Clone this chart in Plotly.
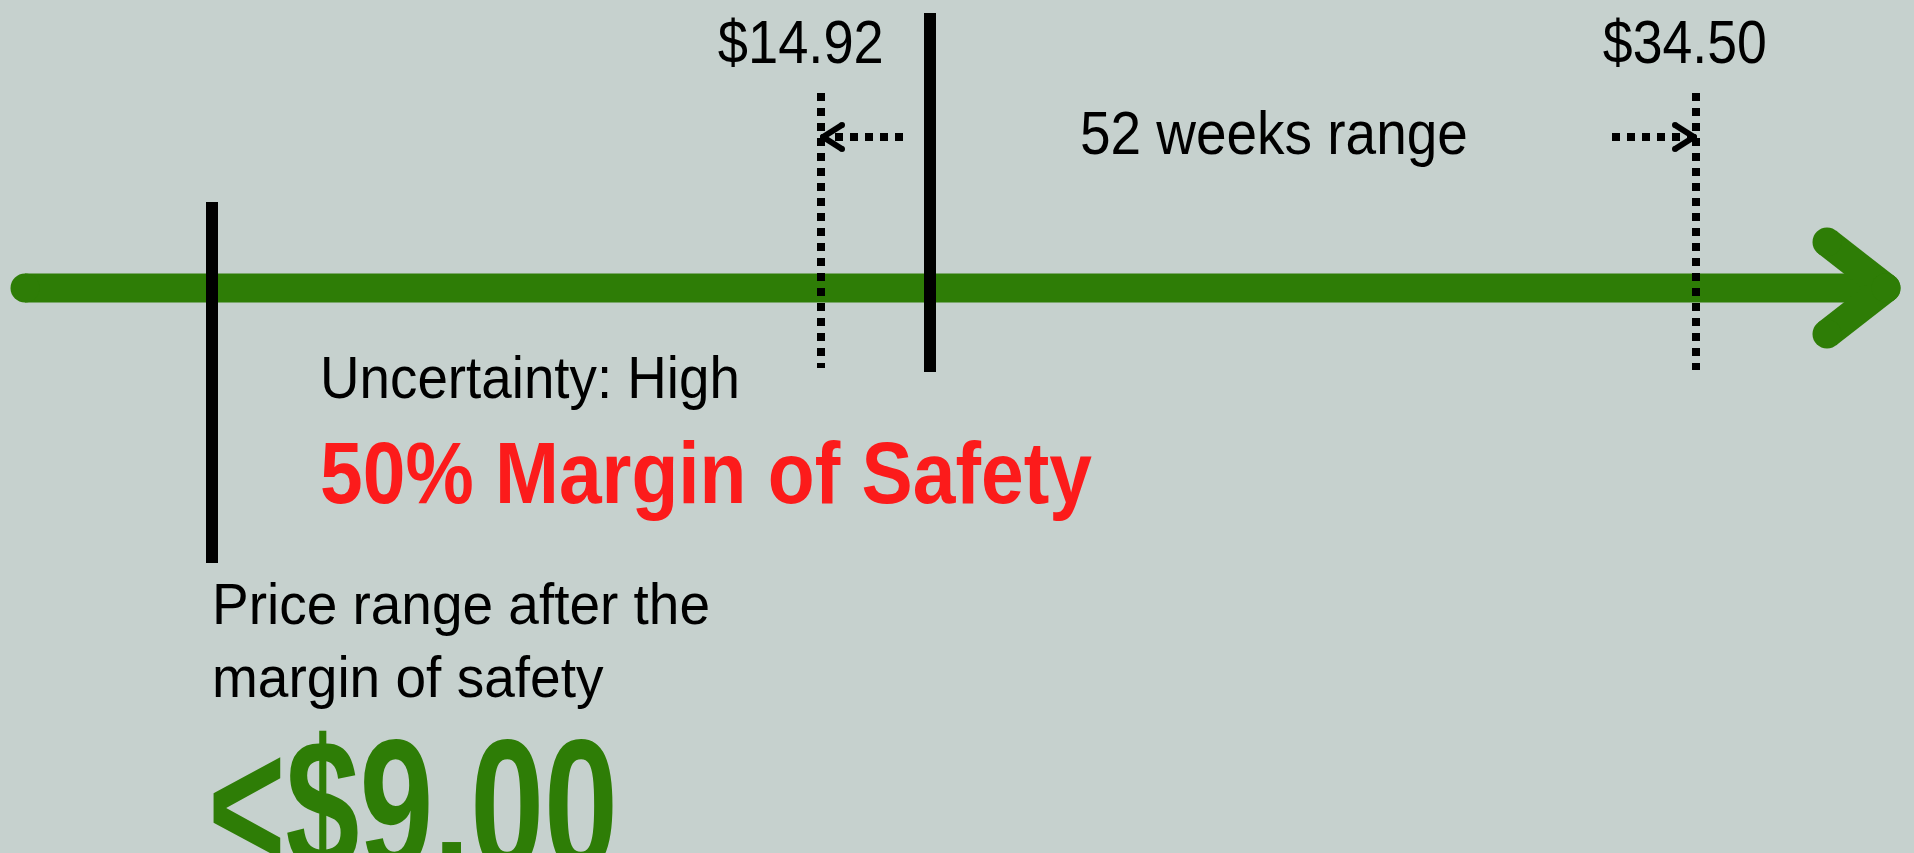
import json
import plotly.graph_objects as go

# ---- data (labels / values) ----
price_labels = ["$14.92", "$34.50"]          # 52-week low / high
range_label = "52 weeks range"
uncertainty_label = "Uncertainty: High"
margin_label = "50% Margin of Safety"
target_caption = ["Price range after the", "margin of safety"]
target_price = "<$9.00"

# ---- layout geometry (pixel space of the canvas) ----
W, H = 1914, 853
BG = "#c6d1ce"
GREEN = "#2e7d06"
RED = "#fc1b1b"
FONT = "Liberation Sans, Arial, sans-serif"

axis_y = 288
x_target = 212      # solid line: target price
x_low = 821         # dotted: 52w low
x_now = 930         # solid: current price
x_high = 1696       # dotted: 52w high

fig = go.Figure()

def seg(xs, ys, color, width, dash="solid", markers=False, msize=0):
    fig.add_trace(go.Scatter(
        x=xs, y=ys, mode="lines+markers" if markers else "lines",
        line=dict(color=color, width=width, dash=dash),
        marker=dict(size=msize, color=color, line=dict(width=0)) if markers else None,
        hoverinfo="skip", showlegend=False))

# main green axis arrow (separate arm segments with round ends)
seg([25, 1880], [axis_y, axis_y], GREEN, 29, markers=True, msize=29)
seg([1827, 1886], [242, axis_y], GREEN, 29, markers=True, msize=29)
seg([1827, 1886], [334, axis_y], GREEN, 29, markers=True, msize=29)

# vertical markers
seg([x_target, x_target], [202, 563], "black", 12)
seg([x_now, x_now], [13, 372], "black", 12)
seg([x_low, x_low], [93, 368], "black", 8, dash="8px,7px")
seg([x_high, x_high], [93, 370], "black", 8, dash="8px,7px")

# dotted arrows for 52-week range
seg([903, 826], [137, 137], "black", 8, dash="8px,7px")
seg([842, 823], [125, 137], "black", 6, markers=True, msize=6)
seg([842, 823], [149, 137], "black", 6, markers=True, msize=6)
seg([1612, 1690], [137, 137], "black", 8, dash="8px,7px")
seg([1675, 1694], [125, 137], "black", 6, markers=True, msize=6)
seg([1675, 1694], [149, 137], "black", 6, markers=True, msize=6)

ann = []
fit = []   # (target text width in px, anchor) used to condense the glyphs
def txt(x, y, t, size, width, color="black", bold=False, xanchor="left"):
    ann.append(dict(x=x, y=y, xref="x", yref="y", text=("<b>%s</b>" % t) if bold else t,
                    showarrow=False, xanchor=xanchor, yanchor="middle",
                    font=dict(family=FONT, size=size, color=color)))
    fit.append([width, xanchor])

txt(801, 41, price_labels[0], 62, 166, xanchor="center")
txt(1685, 41, price_labels[1], 62, 164, xanchor="center")
txt(1274, 132, range_label, 62, 388, xanchor="center")
txt(318, 377, uncertainty_label, 60, 420)
txt(318, 472, margin_label, 88, 772, color=RED, bold=True)
txt(210, 604, target_caption[0], 57, 498)
txt(210, 677, target_caption[1], 57, 392)
txt(206, 805, target_price, 187, 410, color=GREEN, bold=True)

fig.update_layout(
    width=W, height=H, margin=dict(l=0, r=0, t=0, b=0),
    paper_bgcolor=BG, plot_bgcolor=BG, annotations=ann,
    xaxis=dict(range=[0, W], visible=False, fixedrange=True),
    yaxis=dict(range=[H, 0], visible=False, fixedrange=True),
)

post = """
document.body.style.margin='0';
document.body.style.overflow='hidden';
var gd = document.getElementById('{plot_id}');
var specs = FIT;
var texts = gd.querySelectorAll('text.annotation-text');
texts.forEach(function(t, i){
  var s = specs[i]; if(!s) return;
  var b = t.getBBox();
  var sx = s[0] / b.width;
  var x0 = (s[1] === 'left') ? b.x : b.x + b.width/2;
  t.setAttribute('transform', 'translate(' + x0 + ',0) scale(' + sx + ',1) translate(' + (-x0) + ',0)');
});
""".replace("FIT", json.dumps(fit))

fig.write_html("out.html", config={"displayModeBar": False, "staticPlot": True},
               post_script=post)
